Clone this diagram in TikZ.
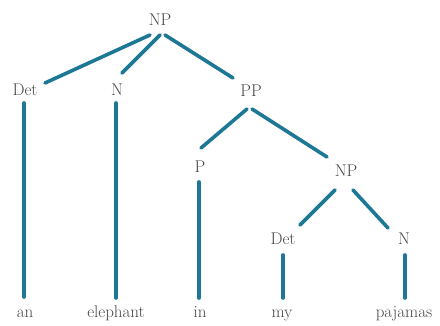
\documentclass[tikz,border=0pt]{standalone}
\usetikzlibrary{calc}
\definecolor{edgeteal}{RGB}{28,120,148}
\definecolor{labelgray}{RGB}{70,70,70}
\begin{document}
\begin{tikzpicture}[x=1pt,y=-1pt,
  lbl/.style={inner sep=0pt,anchor=base,text=labelgray,font=\fontsize{17}{20}\selectfont},
  branch/.style={draw=edgeteal,line width=3.6pt,line cap=round}]
\useasboundingbox (0,0) rectangle (440,326);
% categories
\node[lbl] (np)   at (160,26)  {NP};
\node[lbl] (det1) at (25,96)   {Det};
\node[lbl] (n1)   at (117,96)  {N};
\node[lbl] (pp)   at (251,97)  {PP};
\node[lbl] (p)    at (200,173) {P};
\node[lbl] (np2)  at (346,177) {NP};
\node[lbl] (det2) at (283,245) {Det};
\node[lbl] (n2)   at (404,245) {N};
% words
\node[lbl] (an)       at (25,318)  {an};
\node[lbl] (elephant) at (116,318) {elephant};
\node[lbl] (in)       at (200,318) {in};
\node[lbl] (my)       at (282,318) {my};
\node[lbl] (pajamas)  at (404,318) {pajamas};
% branches
\draw[branch] ($(np.base)+(-10,9)$) -- ($(det1.base)+(20,-13)$);
\draw[branch] ($(np.base)+(0,9)$)   -- ($(n1.base)+(5,-23)$);
\draw[branch] ($(np.base)+(5,9)$)   -- ($(pp.base)+(-18,-19)$);
\draw[branch] ($(pp.base)+(-4,12)$) -- ($(p.base)+(1,-25)$);
\draw[branch] ($(pp.base)+(1,12)$)  -- ($(np2.base)+(-19,-20)$);
\draw[branch] ($(np2.base)+(-11,13)$) -- ($(det2.base)+(17,-20)$);
\draw[branch] ($(np2.base)+(7,13)$)   -- ($(n2.base)+(-16,-17)$);
\draw[branch] ($(det1.base)+(-1,7)$) -- ($(an.base)+(-1,-21)$);
\draw[branch] ($(n1.base)+(-1,7)$)   -- ($(elephant.base)+(0,-20)$);
\draw[branch] ($(p.base)+(-1,9)$)    -- ($(in.base)+(-1,-20)$);
\draw[branch] ($(det2.base)+(0,10)$) -- ($(my.base)+(1,-20)$);
\draw[branch] ($(n2.base)+(1,10)$)   -- ($(pajamas.base)+(1,-20)$);
\end{tikzpicture}
\end{document}
